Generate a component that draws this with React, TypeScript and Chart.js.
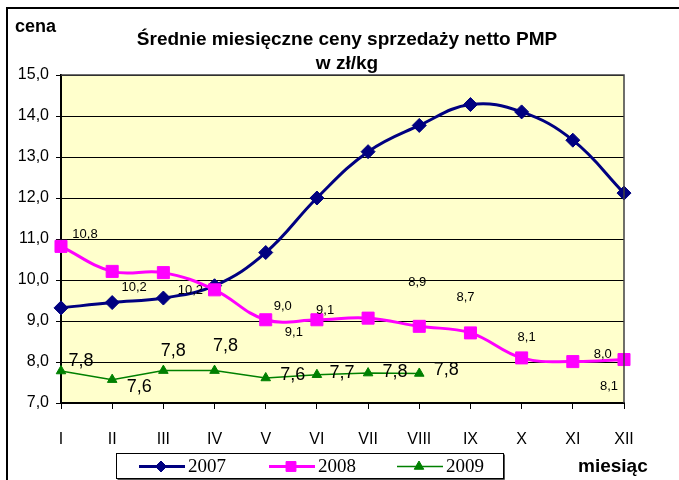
import React, { useEffect, useRef } from "react";
import { Chart, registerables } from "chart.js";

Chart.register(...registerables);

const months = ["I", "II", "III", "IV", "V", "VI", "VII", "VIII", "IX", "X", "XI", "XII"];
const values2007 = [9.32, 9.45, 9.56, 9.86, 10.67, 12.0, 13.13, 13.77, 14.28, 14.1, 13.41, 12.12];
const values2008 = [10.82, 10.21, 10.18, 9.76, 9.03, 9.03, 9.07, 8.87, 8.71, 8.1, 8.01, 8.06];
const values2009 = [7.78, 7.57, 7.79, 7.79, 7.61, 7.69, 7.73, 7.72];
const labels2008 = ["10,8", "10,2", "10,2", null, "9,0", "9,1", "9,1", "8,9", "8,7", "8,1", "8,0", "8,1"];
const labels2009 = ["7,8", "7,6", "7,8", "7,8", "7,6", "7,7", "7,8", "7,8"];
const seriesNames = ["2007", "2008", "2009"];
const yTicks = [7, 8, 9, 10, 11, 12, 13, 14, 15];

// label offsets (px) relative to each point, as placed in the source picture
const offsets2008: ([number, number] | null)[] = [
  [24, -12], [22, 16], [27, 18], null, [17, -13], [-23, 13], [-43, -8], [-2, -44], [-5, -35], [5, -20], [30, -7], [-15, 27],
];
const offsets2009: [number, number][] = [
  [20, -10], [27, 7], [10, -20], [11, -25], [27, -3], [25, -2], [27, -1], [27, -3],
];

const SANS = "'Liberation Sans', Arial, sans-serif";
const SERIF = "'Liberation Serif', 'Times New Roman', serif";

function drawMarker(ctx: CanvasRenderingContext2D, style: string, x: number, y: number, r: number) {
  ctx.beginPath();
  if (style === "rect") {
    const s = r * Math.SQRT1_2;
    ctx.rect(x - s, y - s, 2 * s, 2 * s);
  } else if (style === "rectRot") {
    ctx.moveTo(x - r, y);
    ctx.lineTo(x, y - r);
    ctx.lineTo(x + r, y);
    ctx.lineTo(x, y + r);
    ctx.closePath();
  } else {
    for (let k = 0; k < 3; k++) {
      const ang = (k * 2 * Math.PI) / 3;
      const px = x + Math.sin(ang) * r;
      const py = y - Math.cos(ang) * r;
      if (k === 0) ctx.moveTo(px, py);
      else ctx.lineTo(px, py);
    }
    ctx.closePath();
  }
  ctx.fill();
  ctx.stroke();
}

const decor = {
  id: "decor",
  beforeDraw(chart: any) {
    const { ctx, chartArea: a } = chart;
    ctx.save();
    ctx.fillStyle = "#ffffff";
    ctx.fillRect(0, 0, chart.width, chart.height);
    ctx.fillStyle = "#FFFFCC";
    ctx.fillRect(a.left, a.top, a.right - a.left, a.bottom - a.top);
    ctx.restore();
  },
  afterDatasetsDraw(chart: any) {
    const { ctx } = chart;
    ctx.save();
    ctx.fillStyle = "#000";
    ctx.textAlign = "center";
    ctx.textBaseline = "middle";
    const m1 = chart.getDatasetMeta(1);
    ctx.font = `13px ${SANS}`;
    labels2008.forEach((t, i) => {
      const o = offsets2008[i];
      if (!t || !o) return;
      const p = m1.data[i];
      ctx.fillText(t, p.x + o[0], p.y + o[1]);
    });
    const m2 = chart.getDatasetMeta(2);
    ctx.font = `18px ${SANS}`;
    labels2009.forEach((t, i) => {
      const o = offsets2009[i];
      const p = m2.data[i];
      ctx.fillText(t, p.x + o[0], p.y + o[1]);
    });
    ctx.restore();
  },
  afterDraw(chart: any) {
    const { ctx, chartArea: a } = chart;
    ctx.save();
    // plot border right/top
    ctx.strokeStyle = "#404040";
    ctx.lineWidth = 1.5;
    ctx.beginPath();
    ctx.moveTo(a.left, a.top);
    ctx.lineTo(a.right, a.top);
    ctx.lineTo(a.right, a.bottom);
    ctx.stroke();
    // outer frame (top + left)
    ctx.strokeStyle = "#000";
    ctx.lineWidth = 2;
    ctx.beginPath();
    ctx.moveTo(7, chart.height);
    ctx.lineTo(7, 8);
    ctx.lineTo(chart.width, 8);
    ctx.stroke();
    // titles
    ctx.fillStyle = "#000";
    ctx.textBaseline = "middle";
    ctx.textAlign = "center";
    ctx.font = `bold 19px ${SANS}`;
    ctx.fillText("Średnie miesięczne ceny sprzedaży netto PMP", 347, 40);
    ctx.fillText("w zł/kg", 347, 64);
    ctx.textAlign = "left";
    ctx.font = `bold 18px ${SANS}`;
    ctx.fillText("cena", 15, 27);
    ctx.font = `bold 19px ${SANS}`;
    ctx.fillText("miesiąc", 578, 467);
    // legend
    const bx = 116.5, by = 453.5, bw = 387, bh = 25;
    ctx.fillStyle = "#fff";
    ctx.fillRect(bx, by, bw, bh);
    ctx.strokeStyle = "#000";
    ctx.lineWidth = 1;
    ctx.strokeRect(bx, by, bw, bh);
    ctx.strokeStyle = "#555";
    ctx.beginPath();
    ctx.moveTo(bx + 1, by + bh + 1);
    ctx.lineTo(bx + bw + 1, by + bh + 1);
    ctx.lineTo(bx + bw + 1, by + 1);
    ctx.stroke();
    const starts = [139, 269, 397];
    chart.data.datasets.forEach((ds: any, i: number) => {
      const x0 = starts[i];
      const y = 466.5;
      ctx.strokeStyle = ds.borderColor;
      ctx.lineWidth = ds.borderWidth;
      ctx.beginPath();
      ctx.moveTo(x0, y);
      ctx.lineTo(x0 + 46, y);
      ctx.stroke();
      ctx.fillStyle = ds.backgroundColor;
      ctx.strokeStyle = ds.borderColor;
      ctx.lineWidth = 1;
      const r = i === 1 ? 7 : 5.5;
      drawMarker(ctx, ds.pointStyle, x0 + 22, y, r);
      ctx.fillStyle = "#000";
      ctx.font = `19px ${SERIF}`;
      ctx.textAlign = "left";
      ctx.textBaseline = "middle";
      ctx.fillText(seriesNames[i], x0 + 49, y + 1);
    });
    ctx.restore();
  },
};

export default function App() {
  const ref = useRef<HTMLCanvasElement>(null);
  useEffect(() => {
    document.body.style.margin = "0";
    const chart = new Chart(ref.current as HTMLCanvasElement, {
      type: "line",
      data: {
        labels: months,
        datasets: [
          {
            label: seriesNames[0],
            data: values2007,
            borderColor: "#000080",
            backgroundColor: "#000080",
            borderWidth: 3,
            pointStyle: "rectRot",
            pointRadius: 7,
            pointBorderWidth: 1,
            tension: 0.4,
            order: 3,
          },
          {
            label: seriesNames[1],
            data: values2008,
            borderColor: "#FF00FF",
            backgroundColor: "#FF00FF",
            borderWidth: 3,
            pointStyle: "rect",
            pointRadius: 8.5,
            pointBorderWidth: 1,
            tension: 0.4,
            order: 2,
          },
          {
            label: seriesNames[2],
            data: values2009,
            borderColor: "#008000",
            backgroundColor: "#008000",
            borderWidth: 1.5,
            pointStyle: "triangle",
            pointRadius: 5.5,
            pointBorderWidth: 1,
            tension: 0,
            order: 1,
          },
        ],
      },
      options: {
        responsive: false,
        animation: false,
        events: [],
        layout: { padding: { top: 75, right: 55, left: 0, bottom: 0 } },
        plugins: { legend: { display: false }, title: { display: false }, tooltip: { enabled: false } },
        scales: {
          x: {
            offset: false,
            afterFit: (s: any) => { s.height = 77; },
            grid: { drawOnChartArea: false, drawTicks: true, tickLength: 6, color: "#000", lineWidth: 1 },
            border: { color: "#000", width: 2 },
            ticks: { color: "#000", font: { family: SANS, size: 16 }, padding: 21, maxRotation: 0, autoSkip: false },
          },
          y: {
            min: yTicks[0],
            max: yTicks[yTicks.length - 1],
            afterFit: (s: any) => { s.width = 61; },
            afterBuildTicks: (s: any) => { s.ticks = yTicks.map((v) => ({ value: v })); },
            grid: { color: "#000", lineWidth: 1, tickLength: 5 },
            border: { color: "#000", width: 2 },
            ticks: {
              color: "#000",
              font: { family: SANS, size: 16 },
              padding: 7,
              callback: (v: any) => Number(v).toFixed(1).replace(".", ","),
            },
          },
        },
      },
      plugins: [decor],
    });
    return () => chart.destroy();
  }, []);
  return (
    <div style={{ position: "fixed", left: 0, top: 0, width: 679, height: 480 }}>
      <canvas ref={ref} width={679} height={480} style={{ display: "block" }} />
    </div>
  );
}
